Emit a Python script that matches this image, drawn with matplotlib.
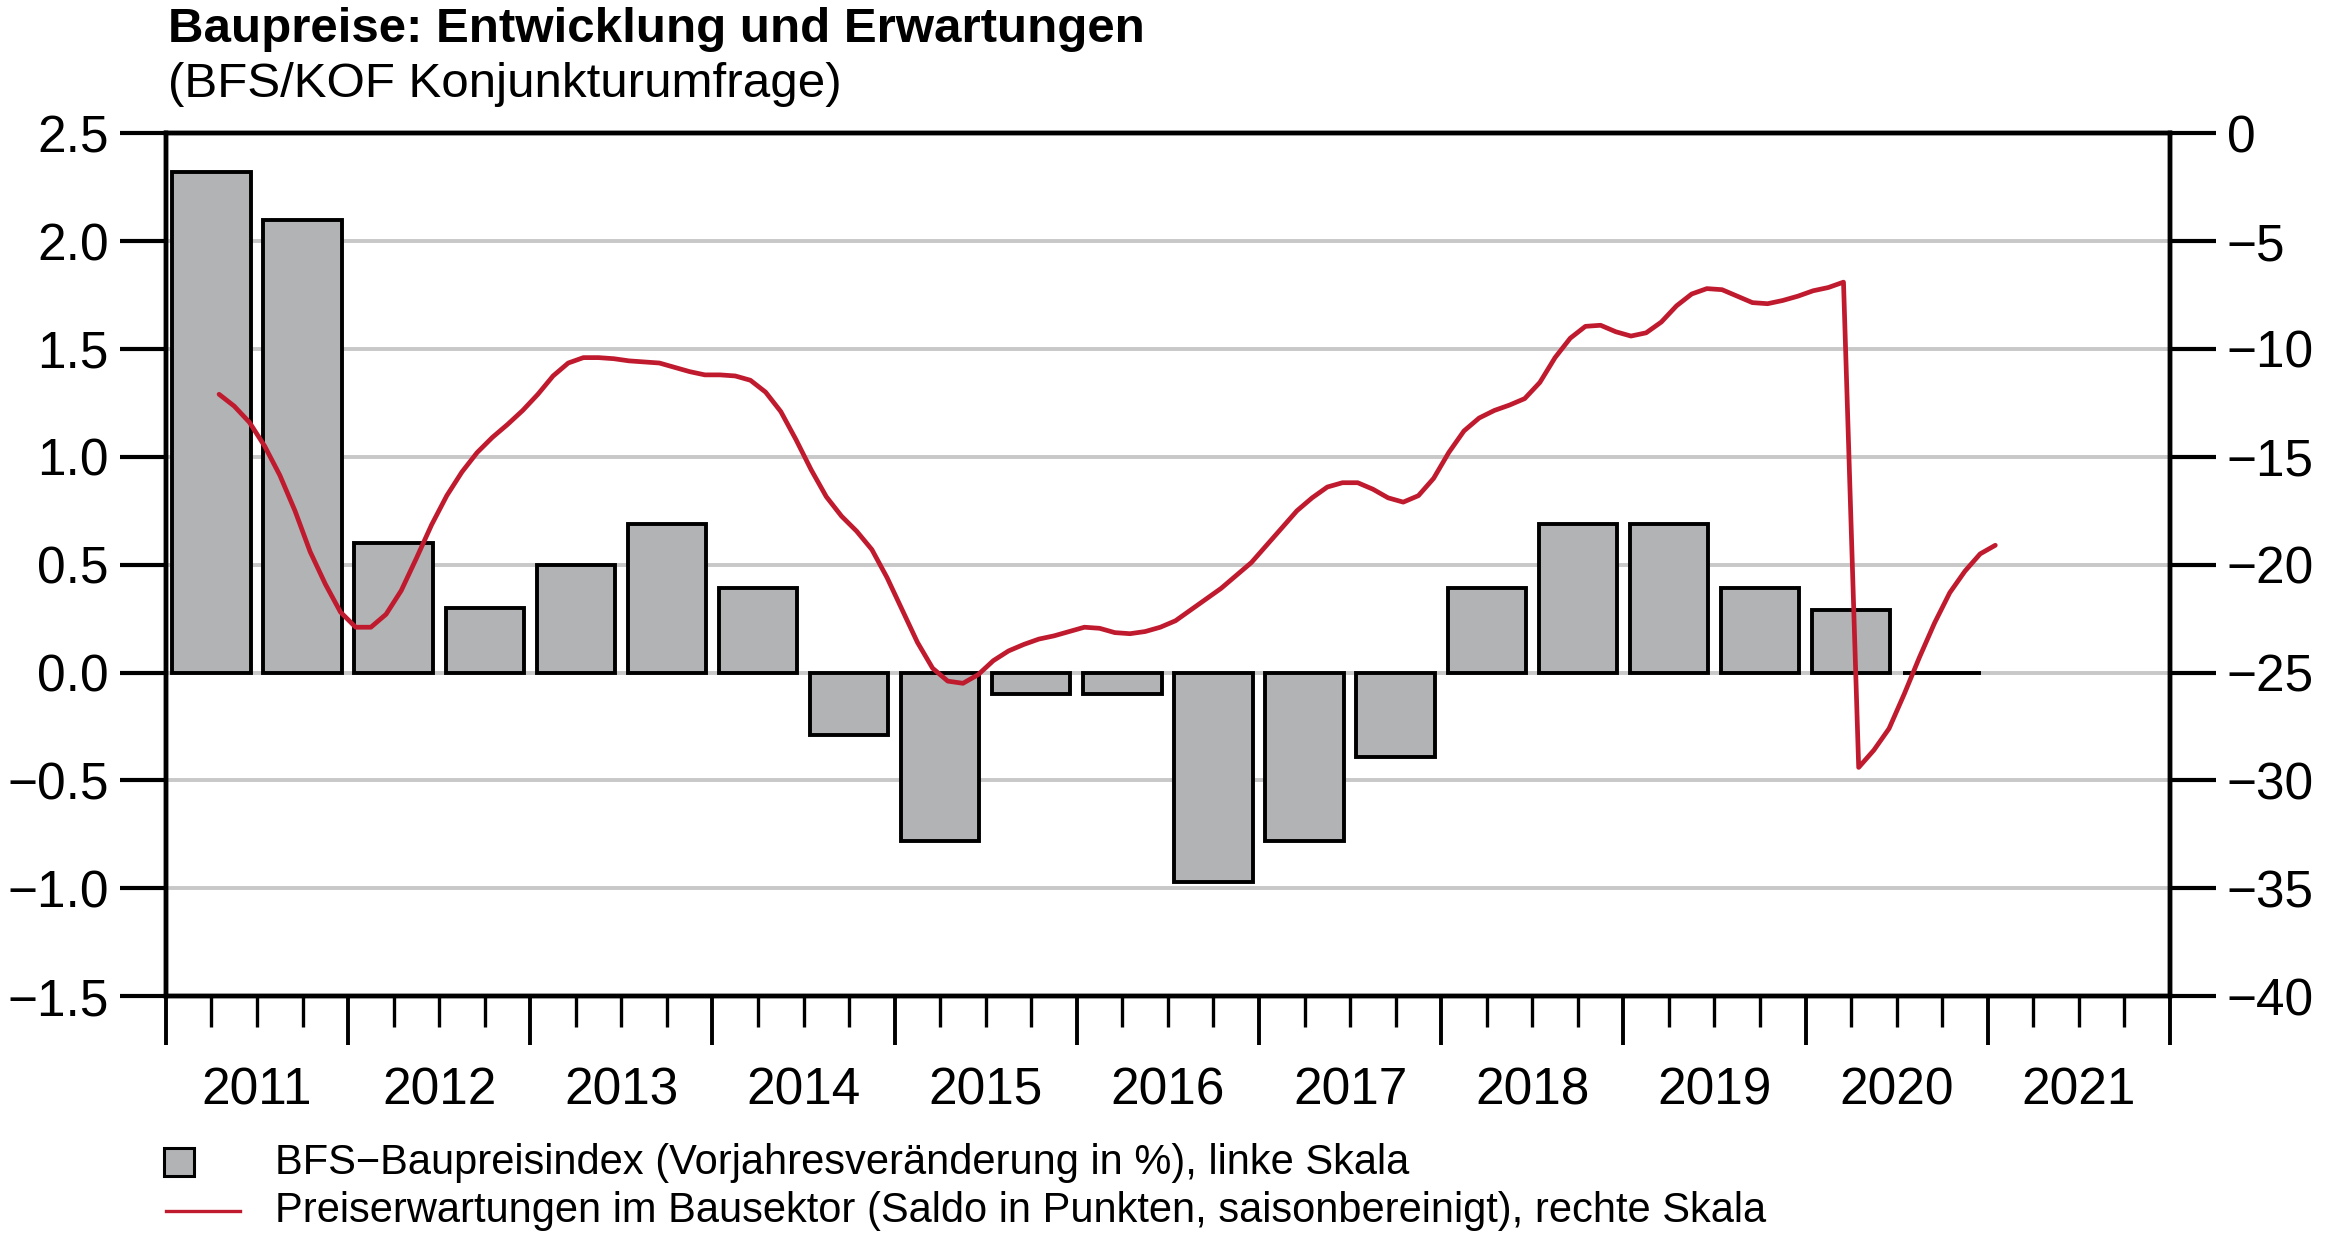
# -*- coding:utf-8 -*-
import numpy as np
import pandas as pd
import matplotlib
matplotlib.use('Agg')
from matplotlib import pyplot as plt
from matplotlib.patches import Rectangle
from matplotlib.lines import Line2D
import matplotlib.transforms as mtransforms

plt.rcParams['font.family'] = ['Liberation Sans', 'DejaVu Sans']

# BFS-Baupreisindex, Vorjahresveränderung in % (Halbjahre, linke Skala)
bar_periods = ['2011-H1', '2011-H2', '2012-H1', '2012-H2', '2013-H1', '2013-H2',
               '2014-H1', '2014-H2', '2015-H1', '2015-H2', '2016-H1', '2016-H2',
               '2017-H1', '2017-H2', '2018-H1', '2018-H2', '2019-H1', '2019-H2',
               '2020-H1', '2020-H2']
bar_values = [2.32, 2.10, 0.60, 0.30, 0.50, 0.69, 0.39, -0.29, -0.78, -0.10,
              -0.10, -0.97, -0.78, -0.39, 0.39, 0.69, 0.69, 0.39, 0.29, 0.0]

# Preiserwartungen im Bausektor, Saldo (monatlich, rechte Skala)
line_months = pd.date_range('2011-04-01', '2021-01-01', freq='MS')
line_values = [
    -12.1, -12.65, -13.4, -14.5, -15.85, -17.5, -19.4, -20.9, -22.2,                # 2011
    -22.9, -22.9, -22.3, -21.2, -19.7, -18.15, -16.8, -15.7, -14.8, -14.1, -13.5, -12.85,  # 2012
    -12.1, -11.25, -10.65, -10.4, -10.4, -10.45, -10.55, -10.6, -10.65, -10.85, -11.05, -11.2,  # 2013
    -11.2, -11.25, -11.45, -12.0, -12.9, -14.2, -15.6, -16.85, -17.75, -18.45, -19.3, -20.6,  # 2014
    -22.1, -23.6, -24.8, -25.4, -25.5, -25.1, -24.45, -24.0, -23.7, -23.45, -23.3, -23.1,  # 2015
    -22.9, -22.95, -23.15, -23.2, -23.1, -22.9, -22.6, -22.1, -21.6, -21.1, -20.5, -19.9,  # 2016
    -19.1, -18.3, -17.5, -16.9, -16.4, -16.2, -16.2, -16.5, -16.9, -17.1, -16.8, -16.0,  # 2017
    -14.8, -13.8, -13.2, -12.85, -12.6, -12.3, -11.55, -10.4, -9.5, -8.95, -8.9, -9.2,  # 2018
    -9.4, -9.25, -8.75, -8.0, -7.45, -7.2, -7.25, -7.55, -7.85, -7.9, -7.75, -7.55,  # 2019
    -7.3, -7.15, -6.9, -29.4, -28.6, -27.6, -26.0, -24.3, -22.7, -21.3, -20.3, -19.5,  # 2020
    -19.1,                                                                            # 2021
]

years = list(range(2011, 2022))

title = 'Baupreise: Entwicklung und Erwartungen'
subtitle = '(BFS/KOF Konjunkturumfrage)'
legend_labels = ['BFS\u2212Baupreisindex (Vorjahresveränderung in %), linke Skala',
                 'Preiserwartungen im Bausektor (Saldo in Punkten, saisonbereinigt), rechte Skala']

BAR_COLOR = '#b1b3b5'
RED = '#c01a2e'
GRID = '#c8c8c8'

fig = plt.figure(figsize=(23.37, 12.39), dpi=100)
ax = fig.add_axes([0.0710, 0.1961, 0.8575, 0.6963])

# Balken (Halbjahr -> Position in Jahren)
bar_x = [int(p[:4]) + (int(p[-1]) - 0.5) / 2 for p in bar_periods]
ax.bar(bar_x, bar_values, width=0.43, color=BAR_COLOR, edgecolor='black',
       linewidth=2.8, zorder=3)

ax.set_xlim(2011, 2022)
ax.set_ylim(-1.5, 2.5)
ax.set_yticks(np.arange(-1.5, 2.51, 0.5))
ax.set_yticklabels(['%.1f' % v if v >= 0 else '\u2212%.1f' % abs(v)
                    for v in np.arange(-1.5, 2.51, 0.5)])
for v in np.arange(-1.0, 2.01, 0.5):
    ax.axhline(v, color=GRID, linewidth=2.8, zorder=1)

ax.set_xticks(range(2011, 2023))
ax.set_xticks([y + q / 4 for y in range(2011, 2022) for q in (1, 2, 3)], minor=True)
ax.set_xticklabels([])
ax.tick_params(axis='x', which='major', length=35, width=2.8, direction='out')
ax.tick_params(axis='x', which='minor', length=22, width=2.4, direction='out')
ax.tick_params(axis='y', length=33, width=3, direction='out', labelsize=37, pad=8)

trans = mtransforms.blended_transform_factory(ax.transData, ax.transAxes)
for y in years:
    ax.text(y + 0.5, -0.1105, str(y), transform=trans, ha='center', va='center',
            fontsize=37)

for s in ax.spines.values():
    s.set_linewidth(3.2)

# rechte Skala
ax2 = ax.twinx()
line_x = [d.year + (d.month - 0.5) / 12 for d in line_months]
ax2.plot(line_x, line_values, color=RED, linewidth=3.4, solid_capstyle='round',
         solid_joinstyle='round', zorder=5)
ax2.set_ylim(-40, 0)
ax2.set_yticks(range(-40, 1, 5))
ax2.set_yticklabels([str(v) if v == 0 else '\u2212%d' % abs(v) for v in range(-40, 1, 5)])
ax2.tick_params(axis='y', length=33, width=3, direction='out', labelsize=37, pad=8)
for s in ax2.spines.values():
    s.set_linewidth(3.2)

# Titel
fig.text(0.0719, 0.9765, title, fontsize=35.5, fontweight='bold', ha='left', va='center')
fig.text(0.0719, 0.9315, subtitle, fontsize=35.5, ha='left', va='center')

# Legende
fig.patches.append(Rectangle((0.0702, 0.0505), 0.0128, 0.0226,
                             transform=fig.transFigure, facecolor=BAR_COLOR,
                             edgecolor='black', linewidth=2.2))
fig.lines.append(Line2D([0.0710, 0.1027], [0.0228, 0.0228], transform=fig.transFigure,
                        color=RED, linewidth=2.4))
fig.text(0.1177, 0.0610, legend_labels[0], fontsize=30, ha='left', va='center')
fig.text(0.1177, 0.0228, legend_labels[1], fontsize=30, ha='left', va='center')

fig.savefig('out.png', dpi=100)
